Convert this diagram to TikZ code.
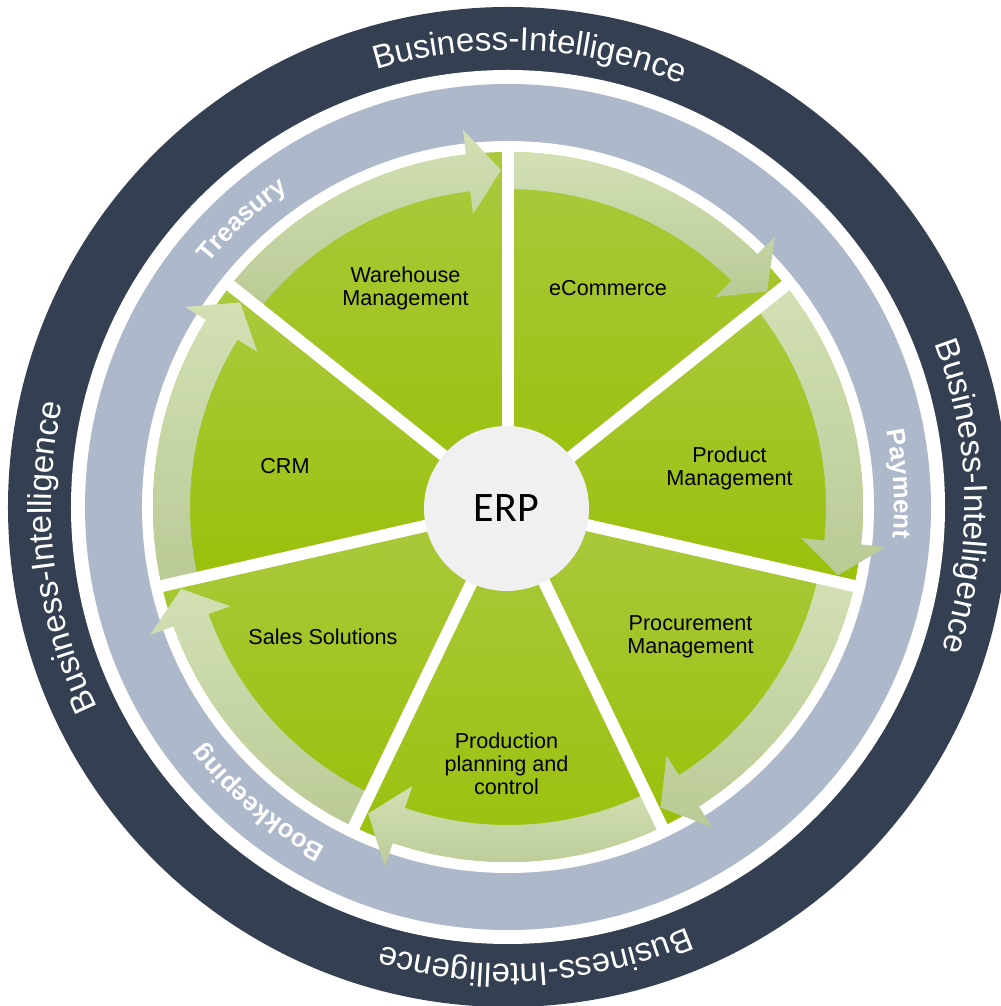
\documentclass[tikz,border=0pt]{standalone}
\usepackage{fontspec}
\setmainfont{Liberation Sans}
\newfontfamily\erpfont{Carlito}
\usetikzlibrary{decorations.text}

\definecolor{ringdark}{RGB}{52,63,81}
\definecolor{ringblue}{RGB}{173,184,202}
\definecolor{segtop}{RGB}{170,201,62}
\definecolor{segbot}{RGB}{154,192,10}
\definecolor{bandtop}{RGB}{210,224,180}
\definecolor{bandbot}{RGB}{186,202,150}
\definecolor{hubgray}{RGB}{240,240,240}

\begin{document}
\begin{tikzpicture}[
    % One unit is one pixel of the drawing
    x=0.2mm, y=0.2mm,
    % Define styles for the elements
    seg_style/.style={top color=segtop, bottom color=segbot},
    band_style/.style={top color=bandtop, bottom color=bandbot},
    spoke_style/.style={draw=white, line width=2.4mm},
    label_style/.style={font=\fontsize{12.3}{13.1}\selectfont, align=center, text=black},
    bi_text/.style={decorate, decoration={text along path, text color=white, text align=center,
        text={|\fontsize{18.8}{20}\selectfont|Business-Intelligence}}},
    inner_text/.style={decorate, decoration={text along path, text color=white, text align=center,
        text={|\fontsize{14.7}{16}\selectfont\bfseries|#1}}}
  ]

  % --- Step 1: Fix the frame of the picture ---
  \useasboundingbox (-508,-499) rectangle (492,507);

  % --- Step 2: The two outer rings ---
  \fill[ringdark] (0,0) circle (500);
  \fill[white] (0,0) circle (437);
  \fill[ringblue] (0,0) circle (423);
  \fill[white] (0,0) circle (366);

  % --- Step 3: Seven green sectors, each with its curved arrow ---
  % The arrow runs clockwise along the outer edge of the sector.
  \foreach \a [evaluate=\a as \b using \a-51.4286] in
      {141.4286, 90, 38.5714, -12.8571, -64.2857, -115.7143, -167.1429} {
    \shade[seg_style] (0,0) -- (\a:355) arc[start angle=\a, end angle=\b, radius=355] -- cycle;
    \shade[band_style] (\a:355) arc[start angle=\a, end angle=\b+6.8, radius=355]
      -- ({\b+6.8}:380) -- ({\b+1.2}:337) -- ({\b+6.8}:295) -- ({\b+6.8}:318)
      arc[start angle=\b+6.8, end angle=\a, radius=318] -- cycle;
  }

  % White spokes between the sectors
  \foreach \a in {141.4286, 90, 38.5714, -12.8571, -64.2857, -115.7143, -167.1429}
    \draw[spoke_style] (0,0) -- (\a:362);

  % --- Step 4: The hub ---
  \node[circle, fill=hubgray, minimum size=33mm, inner sep=0pt,
        font=\erpfont\fontsize{23.9}{26}\selectfont] (erp) at (-1.5,-1.5) {ERP};

  % --- Step 5: Sector labels ---
  \node[label_style] (warehouse) at (-102.5,219) {Warehouse\\Management};
  \node[label_style] (ecommerce) at (100,219) {eCommerce};
  \node[label_style] (product) at (221.5,39) {Product\\Management};
  \node[label_style] (procurement) at (182.5,-130) {Procurement\\Management};
  \node[label_style] (production) at (-1.5,-256.5) {Production\\planning and\\control};
  \node[label_style] (sales) at (-185,-129.5) {Sales Solutions};
  \node[label_style] (crm) at (-223,40.5) {CRM};

  % --- Step 6: Texts running clockwise round the rings ---
  \path[bi_text] (112.2:457) arc[start angle=112.2, end angle=62.2, radius=457];
  \path[bi_text] (26.4:457) arc[start angle=26.4, end angle=-23.6, radius=457];
  \path[bi_text] (-61.5:457) arc[start angle=-61.5, end angle=-111.5, radius=457];
  \path[bi_text] (211.5:457) arc[start angle=211.5, end angle=161.5, radius=457];

  \path[inner_text=Treasury] (147.8:386) arc[start angle=147.8, end angle=117.8, radius=386];
  \path[inner_text=Payment] (18.4:386) arc[start angle=18.4, end angle=-11.6, radius=386];
  \path[inner_text=Bookkeeping] (249.8:386) arc[start angle=249.8, end angle=209.8, radius=386];

\end{tikzpicture}
\end{document}
